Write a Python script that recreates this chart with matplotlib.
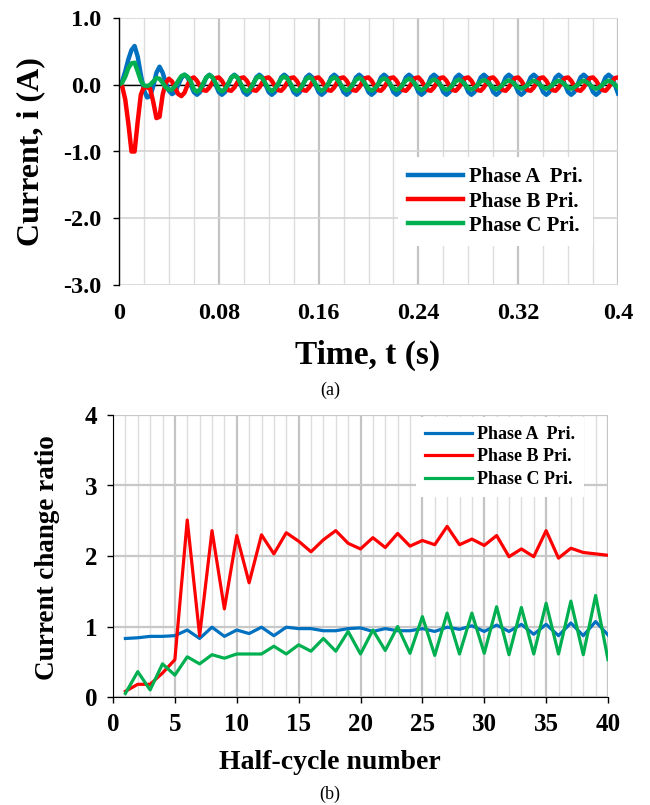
import matplotlib.pyplot as plt
from matplotlib.ticker import MultipleLocator, FormatStrFormatter
import numpy as np

plt.rcParams['font.family'] = ['Liberation Serif', 'DejaVu Serif']
plt.rcParams['font.weight'] = 'bold'
plt.rcParams['axes.unicode_minus'] = False

BLUE = '#0070C0'
RED = '#FF0000'
GREEN = '#00B050'

# ---- (a) primary currents, sampled every 2.5 ms (one row = one 50 Hz cycle)
dt = 0.0025
ia = [0.00, 0.05, 0.20, 0.38, 0.52, 0.58, 0.42, 0.15,
      -0.08, -0.19, -0.17, -0.02, 0.18, 0.27, 0.18, 0.03,
      -0.09, -0.14, -0.11, 0.00, 0.10, 0.15, 0.11, 0.00,
      -0.11, -0.15, -0.11, 0.00, 0.11, 0.15, 0.11, 0.00,
      -0.11, -0.15, -0.11, 0.00, 0.11, 0.15, 0.11, 0.00,
      -0.11, -0.15, -0.11, 0.00, 0.11, 0.15, 0.11, 0.00,
      -0.11, -0.15, -0.11, 0.00, 0.11, 0.15, 0.11, 0.00,
      -0.11, -0.15, -0.11, 0.00, 0.11, 0.15, 0.11, 0.00,
      -0.11, -0.15, -0.11, 0.00, 0.11, 0.15, 0.11, 0.00,
      -0.11, -0.15, -0.11, 0.00, 0.11, 0.15, 0.11, 0.00,
      -0.11, -0.15, -0.11, 0.00, 0.11, 0.15, 0.11, 0.00,
      -0.11, -0.15, -0.11, 0.00, 0.11, 0.15, 0.11, 0.00,
      -0.11, -0.15, -0.11, 0.00, 0.11, 0.15, 0.11, 0.00,
      -0.11, -0.15, -0.11, 0.00, 0.11, 0.15, 0.11, 0.00,
      -0.11, -0.15, -0.11, 0.00, 0.11, 0.15, 0.11, 0.00,
      -0.11, -0.15, -0.11, 0.00, 0.11, 0.15, 0.11, 0.00,
      -0.11, -0.15, -0.11, 0.00, 0.11, 0.15, 0.11, 0.00,
      -0.11, -0.15, -0.11, 0.00, 0.11, 0.15, 0.11, 0.00,
      -0.11, -0.15, -0.11, 0.00, 0.11, 0.15, 0.11, 0.00,
      -0.11, -0.15, -0.11, 0.00, 0.11, 0.15, 0.11, 0.00,
      -0.13]
ib = [0.00, -0.02, -0.22, -0.58, -1.00, -1.00, -0.55, -0.15,
      -0.03, -0.04, -0.06, -0.26, -0.50, -0.48, -0.15, 0.03,
      0.09, 0.05, -0.05, -0.14, -0.17, -0.12, 0.00, 0.09,
      0.11, 0.06, -0.02, -0.08, -0.09, -0.04, 0.04, 0.10,
      0.11, 0.06, -0.02, -0.08, -0.09, -0.04, 0.04, 0.10,
      0.11, 0.06, -0.02, -0.08, -0.09, -0.04, 0.04, 0.10,
      0.11, 0.06, -0.02, -0.08, -0.09, -0.04, 0.04, 0.10,
      0.11, 0.06, -0.02, -0.08, -0.09, -0.04, 0.04, 0.10,
      0.11, 0.06, -0.02, -0.08, -0.09, -0.04, 0.04, 0.10,
      0.11, 0.06, -0.02, -0.08, -0.09, -0.04, 0.04, 0.10,
      0.11, 0.06, -0.02, -0.08, -0.09, -0.04, 0.04, 0.10,
      0.11, 0.06, -0.02, -0.08, -0.09, -0.04, 0.04, 0.10,
      0.11, 0.06, -0.02, -0.08, -0.09, -0.04, 0.04, 0.10,
      0.11, 0.06, -0.02, -0.08, -0.09, -0.04, 0.04, 0.10,
      0.11, 0.06, -0.02, -0.08, -0.09, -0.04, 0.04, 0.10,
      0.11, 0.06, -0.02, -0.08, -0.09, -0.04, 0.04, 0.10,
      0.11, 0.06, -0.02, -0.08, -0.09, -0.04, 0.04, 0.10,
      0.11, 0.06, -0.02, -0.08, -0.09, -0.04, 0.04, 0.10,
      0.11, 0.06, -0.02, -0.08, -0.09, -0.04, 0.04, 0.10,
      0.11, 0.06, -0.02, -0.08, -0.09, -0.04, 0.04, 0.10,
      0.11]
ic = [0.00, 0.03, 0.12, 0.25, 0.32, 0.33, 0.20, 0.06,
      -0.01, -0.02, 0.00, 0.05, 0.10, 0.09, 0.03, -0.04,
      -0.075, -0.07, -0.02, 0.06, 0.13, 0.15, 0.12, 0.05,
      -0.07, -0.105, -0.07, 0.02, 0.11, 0.145, 0.11, 0.02,
      -0.065, -0.10, -0.065, 0.02, 0.105, 0.14, 0.105, 0.02,
      -0.065, -0.10, -0.065, 0.015, 0.095, 0.13, 0.095, 0.015,
      -0.06, -0.095, -0.06, 0.015, 0.09, 0.125, 0.09, 0.015,
      -0.065, -0.095, -0.065, 0.01, 0.085, 0.115, 0.085, 0.01,
      -0.06, -0.09, -0.06, 0.01, 0.08, 0.11, 0.08, 0.01,
      -0.055, -0.085, -0.055, 0.01, 0.075, 0.105, 0.075, 0.01,
      -0.06, -0.085, -0.06, 0.005, 0.07, 0.095, 0.07, 0.005,
      -0.055, -0.08, -0.055, 0.005, 0.065, 0.09, 0.065, 0.005,
      -0.055, -0.08, -0.055, 0.00, 0.055, 0.08, 0.055, 0.00,
      -0.055, -0.075, -0.055, 0.00, 0.055, 0.075, 0.055, 0.00,
      -0.05, -0.07, -0.05, 0.00, 0.05, 0.07, 0.05, 0.00,
      -0.045, -0.065, -0.045, 0.00, 0.045, 0.065, 0.045, 0.00,
      -0.04, -0.06, -0.04, 0.00, 0.04, 0.06, 0.04, 0.00,
      -0.04, -0.06, -0.04, 0.00, 0.04, 0.06, 0.04, 0.00,
      -0.04, -0.06, -0.04, 0.00, 0.04, 0.06, 0.04, 0.00,
      -0.04, -0.06, -0.04, 0.00, 0.04, 0.06, 0.04, 0.00,
      -0.04]
t = np.arange(len(ia)) * dt
xt_a = [0, 0.08, 0.16, 0.24, 0.32, 0.4]
xt_a_lbl = ['0', '0.08', '0.16', '0.24', '0.32', '0.4']

# ---- (b) current change ratio per half cycle
half_cycle = list(range(1, 41))
ratio_a = [0.83, 0.84, 0.86, 0.86, 0.87, 0.95, 0.83, 0.99, 0.86, 0.95,
           0.90, 0.99, 0.87, 0.99, 0.97, 0.97, 0.94, 0.94, 0.97, 0.98,
           0.93, 0.97, 0.94, 0.94, 0.97, 0.93, 0.99, 0.96, 1.01, 0.93,
           1.02, 0.93, 1.03, 0.89, 1.03, 0.87, 1.05, 0.87, 1.07, 0.88]
ratio_b = [0.08, 0.18, 0.18, 0.34, 0.53, 2.51, 0.87, 2.36, 1.25, 2.29,
           1.62, 2.30, 2.03, 2.33, 2.21, 2.06, 2.23, 2.36, 2.18, 2.10,
           2.26, 2.12, 2.32, 2.14, 2.22, 2.16, 2.42, 2.16, 2.24, 2.15,
           2.29, 1.99, 2.10, 1.99, 2.36, 1.97, 2.11, 2.05, 2.03, 2.01]
ratio_c = [0.05, 0.36, 0.10, 0.47, 0.31, 0.57, 0.47, 0.60, 0.55, 0.61,
           0.61, 0.61, 0.72, 0.61, 0.74, 0.65, 0.83, 0.65, 0.93, 0.61,
           0.95, 0.66, 1.00, 0.62, 1.14, 0.59, 1.19, 0.61, 1.19, 0.62,
           1.28, 0.60, 1.27, 0.61, 1.33, 0.61, 1.36, 0.60, 1.44, 0.53]

labels = ['Phase A  Pri.', 'Phase B Pri.', 'Phase C Pri.']
W, H = 650, 805


def fx(x):
    return x / W


def fy(y):
    return 1 - y / H


fig = plt.figure(figsize=(6.5, 8.05), dpi=100)

# ---------------- top chart
ax1 = fig.add_axes([fx(119), fy(285), (618 - 119) / W, (285 - 18) / H])
ax1.plot(t, ia, color=BLUE, lw=3.2, label=labels[0])
ax1.plot(t, ib, color=RED, lw=3.2, label=labels[1])
ax1.plot(t, ic, color=GREEN, lw=3.2, label=labels[2])
ax1.axhline(0, color='black', lw=1, zorder=1.5)
ax1.set_xlim(0, 0.4)
ax1.set_ylim(-3, 1)
ax1.set_xticks(xt_a)
ax1.set_xticklabels(xt_a_lbl)
ax1.xaxis.set_minor_locator(MultipleLocator(0.02))
ax1.set_yticks([-3, -2, -1, 0, 1])
ax1.yaxis.set_major_formatter(FormatStrFormatter('%.1f'))
ax1.set_axisbelow(True)
ax1.grid(which='minor', axis='x', color='#DDDDDD', lw=1)
ax1.grid(which='major', axis='x', color='#C4C4C4', lw=1.6)
ax1.grid(which='major', axis='y', color='#D4D4D4', lw=1.2)
for s in ['top', 'right', 'bottom']:
    ax1.spines[s].set_visible(False)
ax1.spines['left'].set_linewidth(1)
ax1.tick_params(axis='x', which='both', length=0, pad=13, labelsize=17.5)
ax1.tick_params(axis='y', direction='out', length=4.5, width=1, pad=8, labelsize=17.5)
ax1.legend(loc='upper left', bbox_to_anchor=(fx(398), fy(157)),
           bbox_transform=fig.transFigure, fontsize=15, frameon=True,
           facecolor='white', edgecolor='none', fancybox=False, framealpha=1,
           handlelength=2.6, handletextpad=0.3, labelspacing=0.2,
           borderpad=0.5, borderaxespad=0)

# ---------------- bottom chart
ax2 = fig.add_axes([fx(113), fy(697), (608 - 113) / W, (697 - 415) / H])
ax2.plot(half_cycle, ratio_a, color=BLUE, lw=2.3, label=labels[0])
ax2.plot(half_cycle, ratio_b, color=RED, lw=2.3, label=labels[1])
ax2.plot(half_cycle, ratio_c, color=GREEN, lw=2.3, label=labels[2])
ax2.set_xlim(0, 40)
ax2.set_ylim(0, 4)
ax2.xaxis.set_major_locator(MultipleLocator(5))
ax2.xaxis.set_minor_locator(MultipleLocator(1))
ax2.yaxis.set_major_locator(MultipleLocator(1))
ax2.set_axisbelow(True)
ax2.grid(which='minor', axis='x', color='#DDDDDD', lw=1)
ax2.grid(which='major', axis='x', color='#C4C4C4', lw=1.6)
ax2.grid(which='major', axis='y', color='#C8C8C8', lw=1.6)
for s in ['top', 'right']:
    ax2.spines[s].set_visible(False)
ax2.tick_params(axis='x', which='minor', length=0)
ax2.tick_params(axis='x', which='major', direction='out', length=4.5, width=1,
                pad=7, labelsize=18)
ax2.tick_params(axis='y', direction='out', length=4.5, width=1, pad=7, labelsize=18)
ax2.legend(loc='upper left', bbox_to_anchor=(fx(416), fy(417)),
           bbox_transform=fig.transFigure, fontsize=13, frameon=True,
           facecolor='white', edgecolor='none', fancybox=False, framealpha=1,
           handlelength=2.6, handletextpad=0.3, labelspacing=0.3,
           borderpad=0.5, borderaxespad=0)

# ---------------- titles and captions
fig.text(fx(31), fy(152), 'Current, i (A)', rotation=90, ha='center', va='center',
         fontsize=23, weight='bold')
fig.text(fx(368), fy(355), 'Time, t (s)', ha='center', va='center',
         fontsize=24, weight='bold')
fig.text(fx(330), fy(390), '(a)', ha='center', va='center', fontsize=13,
         weight='normal')
fig.text(fx(48), fy(558), 'Current change ratio', rotation=90, ha='center',
         va='center', fontsize=19.5, weight='bold')
fig.text(fx(330), fy(762), 'Half-cycle number', ha='center', va='center',
         fontsize=20, weight='bold')
fig.text(fx(330), fy(794), '(b)', ha='center', va='center', fontsize=13,
         weight='normal')

fig.savefig('out.png', dpi=100, facecolor='white')
